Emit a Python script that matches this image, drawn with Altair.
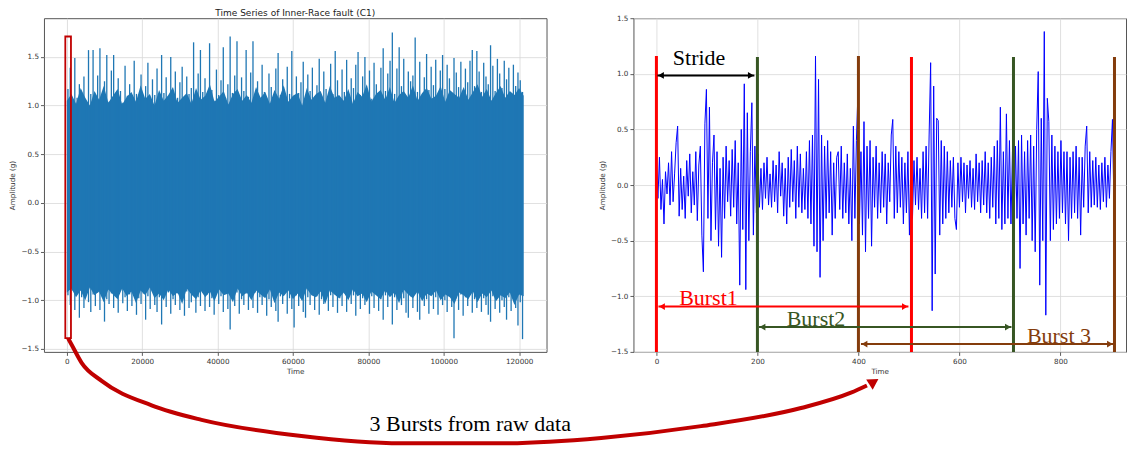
import altair as alt
import pandas as pd

# ---------------- Left panel: raw record ----------------
# spikes: extreme values per bin of 606 samples
raw_bin = 606
raw_hi = [
    1.17, 1.39, 1.05, 1.49, 1.08, 1.22, 1.10, 1.30, 1.02, 1.57, 1.12, 1.57, 1.06, 1.31, 1.59, 1.10, 1.25, 1.52, 1.04, 1.36,
    1.52, 1.08, 1.28, 1.15, 1.03, 1.41, 1.10, 1.22, 1.06, 1.46, 1.12, 1.01, 1.32, 1.09, 1.20, 1.44, 1.05, 1.27, 1.11, 1.38,
    1.07, 1.52, 1.13, 1.29, 1.04, 1.50, 1.10, 1.35, 1.08, 1.24, 1.40, 1.06, 1.30, 1.12, 1.18, 1.65, 1.09, 1.33, 1.57, 1.14,
    1.28, 1.07, 1.64, 1.16, 1.05, 1.37, 1.11, 1.26, 1.60, 1.08, 1.22, 1.71, 1.13, 1.31, 1.66, 1.06, 1.29, 1.15, 1.57, 1.09,
    1.34, 1.66, 1.10, 1.25, 1.05, 1.42, 1.14, 1.08, 1.33, 1.19, 1.06, 1.38, 1.54, 1.11, 1.27, 1.09, 1.40, 1.12, 1.56, 1.07,
    1.30, 1.13, 1.24, 1.45, 1.06, 1.32, 1.15, 1.39, 1.09, 1.21, 1.48, 1.10, 1.35, 1.17, 1.05, 1.43, 1.12, 1.56, 1.26, 1.08,
    1.37, 1.14, 1.47, 1.09, 1.28, 1.18, 1.42, 1.55, 1.11, 1.30, 1.50, 1.13, 1.36, 1.07, 1.44, 1.22, 1.10, 1.39, 1.59, 1.15,
    1.33, 1.46, 1.75, 1.12, 1.38, 1.60, 1.20, 1.48, 1.09, 1.35, 1.25, 1.31, 1.70, 1.14, 1.45, 1.11, 1.29, 1.53, 1.16, 1.40,
    1.21, 1.47, 1.10, 1.36, 1.52, 1.17, 1.42, 1.28, 1.13, 1.49, 1.34, 1.19, 1.45, 1.08, 1.38, 1.24, 1.46, 1.57, 1.20, 1.56,
    1.35, 1.14, 1.44, 1.30, 1.22, 1.62, 1.41, 1.15, 1.48, 1.33, 1.18, 1.46, 1.27, 1.39, 1.12, 1.42, 1.20, 1.34, 1.26, 1.14,
]
raw_lo = [
    -0.95, -1.05, -0.90, -1.10, -0.93, -1.18, -0.97, -1.08, -0.91, -1.02, -1.12, -0.94, -1.06, -0.92, -1.10, -0.96, -1.22, -0.99, -1.04, -0.93,
    -1.08, -0.95, -1.13, -0.90, -1.03, -0.97, -1.11, -0.94, -1.06, -0.92, -1.15, -0.98, -1.04, -0.93, -1.20, -0.96, -1.09, -0.91, -1.05, -1.12,
    -0.97, -1.25, -0.94, -1.07, -0.92, -1.14, -0.99, -1.05, -0.93, -1.10, -0.96, -1.16, -0.91, -1.08, -1.02, -0.95, -1.13, -0.97, -1.06, -0.92,
    -1.11, -0.94, -1.07, -0.98, -1.15, -0.93, -1.04, -0.96, -1.12, -0.91, -1.09, -1.30, -0.95, -1.06, -0.92, -1.14, -0.99, -1.05, -0.93, -1.10,
    -0.96, -1.08, -0.92, -1.13, -0.97, -1.05, -0.94, -1.16, -0.99, -1.07, -0.93, -1.11, -1.22, -0.96, -1.04, -0.91, -1.14, -0.98, -1.09, -1.28,
    -0.95, -1.06, -0.92, -1.12, -1.18, -0.97, -1.05, -0.93, -1.10, -0.96, -1.15, -0.99, -1.04, -0.92, -1.11, -0.95, -1.07, -0.94, -1.13, -0.98,
    -1.06, -0.93, -1.12, -0.97, -1.04, -0.95, -1.16, -0.92, -1.09, -0.98, -1.05, -0.94, -1.14, -0.96, -1.08, -0.93, -1.11, -0.99, -1.20, -0.95,
    -1.07, -0.94, -1.25, -0.97, -1.10, -0.93, -1.05, -0.98, -1.13, -1.18, -0.96, -1.08, -0.92, -1.12, -1.20, -0.95, -1.06, -0.99, -1.14, -0.94,
    -1.09, -0.97, -1.15, -0.93, -1.05, -1.00, -1.12, -0.95, -1.07, -1.39, -0.98, -1.10, -0.94, -1.16, -0.97, -1.06, -0.93, -1.13, -0.99, -1.08,
    -0.95, -1.12, -0.98, -1.05, -1.15, -1.22, -0.96, -1.09, -0.94, -1.13, -1.00, -1.07, -1.20, -0.97, -1.11, -0.95, -1.08, -1.26, -1.02, -1.40,
]
# dense (solid) band of the record, 100 points over the record length
rec_len = 121200
core_hi = [
    1.05, 1.12, 1.02, 1.18, 1.08, 1.00, 1.15, 1.06, 1.20, 1.03,
    1.10, 1.17, 1.01, 1.09, 1.14, 1.04, 1.21, 1.07, 1.12, 1.00,
    1.16, 1.05, 1.11, 1.19, 1.03, 1.08, 1.13, 1.02, 1.18, 1.06,
    1.10, 1.22, 1.04, 1.09, 1.15, 1.01, 1.12, 1.17, 1.05, 1.11,
    1.03, 1.19, 1.08, 1.14, 1.02, 1.16, 1.07, 1.21, 1.04, 1.10,
    1.13, 1.00, 1.18, 1.06, 1.12, 1.15, 1.03, 1.20, 1.08, 1.11,
    1.05, 1.17, 1.02, 1.14, 1.09, 1.22, 1.04, 1.12, 1.16, 1.06,
    1.19, 1.03, 1.11, 1.15, 1.08, 1.21, 1.05, 1.13, 1.18, 1.07,
    1.10, 1.20, 1.04, 1.16, 1.12, 1.08, 1.19, 1.06, 1.14, 1.22,
    1.09, 1.17, 1.05, 1.13, 1.20, 1.08, 1.15, 1.11, 1.18, 1.10,
]
core_lo = [
    -0.92, -0.88, -0.97, -0.90, -1.00, -0.87, -0.95, -0.91, -1.02, -0.89,
    -0.94, -0.99, -0.88, -0.96, -0.91, -1.03, -0.90, -0.95, -0.87, -0.98,
    -0.93, -1.00, -0.89, -0.96, -0.92, -1.04, -0.88, -0.94, -0.99, -0.90,
    -0.97, -0.91, -1.01, -0.89, -0.95, -0.93, -1.02, -0.88, -0.96, -0.92,
    -1.00, -0.90, -0.94, -0.98, -0.89, -1.03, -0.92, -0.96, -0.90, -0.99,
    -0.93, -1.01, -0.88, -0.95, -0.97, -0.91, -1.04, -0.90, -0.94, -0.98,
    -0.92, -1.00, -0.89, -0.96, -0.93, -1.02, -0.91, -0.95, -0.99, -0.90,
    -0.97, -0.92, -1.03, -0.89, -0.94, -0.98, -0.91, -1.01, -0.93, -0.96,
    -0.90, -1.00, -0.94, -0.97, -1.04, -0.92, -0.95, -0.99, -0.91, -1.02,
    -0.93, -0.97, -0.90, -1.01, -0.95, -0.98, -0.92, -1.05, -0.94, -0.96,
]
left_ticks_x = [0, 20000, 40000, 60000, 80000, 100000, 120000]
amp_ticks = [-1.5, -1.0, -0.5, 0.0, 0.5, 1.0, 1.5]
left_title = ["Time Series of Inner-Race fault (C1)"]

# zoom box and the curved arrow (in the left panel's Time / Amplitude units)
box_t = [-400, 1100]
box_v = [-1.39, 1.71]
curve_t = [354, 1282, 3932, 9233, 22486, 35738, 62243, 88748, 115253, 141758, 168263, 194768, 208021, 212262]
curve_v = [-1.392, -1.457, -1.643, -1.829, -2.080, -2.229, -2.395, -2.470, -2.470, -2.415, -2.294, -2.108, -1.950, -1.876]
head_t = [214117]
head_v = [-1.839]
caption = ["3 Bursts from raw data"]
caption_t = [107037]
caption_v = [-2.347]

# ---------------- Right panel: first 910 samples (every 3rd sample) ----------------
burst_step = 3
burst_vals = [
    0.18, -0.12, 0.25, -0.22, 0.05, -0.35, 0.12, -0.08, 0.2, -0.18,
    0.3, -0.15, 0.1, 0.38, 0.53, -0.28, 0.15, -0.22, 0.08, -0.3,
    0.22, -0.1, 0.28, -0.25, 0.12, -0.18, 0.3, -0.32, 0.18, 0.35,
    -0.45, -0.78, 0.55, 0.86, -0.3, 0.70, -0.5, 0.2, 0.45, -0.4,
    0.3, -0.55, 0.15, -0.65, 0.25, -0.3, 0.35, -0.15, 0.22, -0.28,
    0.32, -0.2, 0.4, -0.35, 0.2, -0.9, 0.5, -0.4, 0.91, -0.94,
    0.65, -0.5, 0.3, 0.74, -0.45, 0.35, -0.25, 0.28, -0.2, 0.15,
    -0.22, 0.2, -0.12, 0.25, -0.18, 0.1, -0.2, 0.22, -0.15, 0.18,
    -0.25, 0.3, -0.1, 0.2, -0.28, 0.15, -0.35, 0.25, -0.2, 0.32,
    -0.15, 0.22, -0.3, 0.35, -0.2, 0.28, -0.25, 0.15, -0.22, 0.3,
    -0.3, 0.4, -0.35, 0.45, -0.55, 1.16, -0.6, 0.95, -0.83, 0.45,
    -0.5, 0.35, -0.3, 0.4, -0.25, 0.3, -0.45, 0.2, -0.3, 0.25,
    0.3, -0.22, 0.35, -0.3, 0.2, -0.25, 0.28, -0.35, 0.15, -0.5,
    0.53, -0.3, 0.4, 0.83, -0.35, 0.3, -0.45, 0.57, -0.6, 0.35,
    -0.3, 0.4, -0.55, 0.25, -0.2, 0.35, -0.3, 0.2, -0.25, 0.3,
    -0.2, 0.28, -0.35, 0.2, -0.15, 0.45, 0.59, -0.3, 0.35, -0.25,
    0.3, -0.2, 0.25, -0.35, 0.2, -0.25, 0.3, -0.45, 0.28, -0.3,
    0.22, -0.18, 0.25, -0.22, 0.15, -0.3, 0.3, -0.25, 0.35, -0.3,
    0.45, 1.10, -1.13, 0.89, -0.8, 0.6, 0.58, -0.45, 0.4, -0.35,
    0.35, -0.3, 0.3, -0.25, 0.22, -0.2, 0.25, -0.3, -0.4, 0.2,
    -0.2, 0.25, -0.15, 0.2, -0.25, 0.18, -0.12, 0.22, -0.2, 0.15,
    -0.22, 0.28, -0.15, 0.2, -0.25, 0.22, -0.18, 0.3, -0.25, 0.2,
    -0.3, 0.25, -0.2, 0.35, -0.35, 0.4, -0.3, 0.70, -0.4, 0.3,
    -0.35, 0.64, -0.3, 0.4, -0.35, 0.3, -0.4, 0.35, -0.3, 0.4,
    -0.75, 0.45, -0.35, 0.3, -0.45, 0.4, -0.3, 0.45, -0.5, 0.35,
    -0.6, 0.5, 1.02, -0.9, 0.6, -0.5, 1.38, -1.17, 0.78, 0.57,
    -0.5, 0.45, -0.4, 0.35, -0.35, 0.3, -0.3, 0.4, -0.25, 0.3,
    -0.35, 0.3, -0.5, 0.25, -0.3, 0.3, -0.25, 0.35, -0.3, 0.25,
    -0.45, 0.25, -0.2, 0.35, 0.53, -0.25, 0.3, -0.2, 0.22, -0.18,
    0.25, -0.2, 0.18, -0.22, 0.2, -0.15, 0.25, -0.2, 0.18, -0.12,
    0.3, 0.59, -0.2, 0.1,
]
right_ticks_x = [0, 200, 400, 600, 800]

# burst boundaries
bound_t = [0, 200, 400, 505, 707, 907]
bound_top = [1.16, 1.15, 1.16, 1.15, 1.15, 1.15]
bound_color = ["#ff0000", "#375623", "#843c0c", "#ff0000", "#375623", "#843c0c"]

# span arrows and their labels
span_name = ["Stride", "Burst1", "Burst2", "Burst 3"]
span_start = [2, 4, 203, 405]
span_end = [194, 499, 703, 905]
span_v = [0.985, -1.093, -1.277, -1.43]
span_color = ["#000000", "#ff0000", "#375623", "#843c0c"]
label_t = [84.5, 103, 316, 797]
label_v = [1.081, -1.075, -1.268, -1.417]

# ---------------- tables ----------------
raw_df = pd.DataFrame({
    "t": [raw_bin * i + raw_bin / 2 for i in range(len(raw_hi))],
    "hi": raw_hi,
    "lo": raw_lo,
})
n_core = len(core_hi)
core_df = pd.DataFrame({
    "t": [rec_len * i / (n_core - 1) for i in range(n_core)],
    "v": core_lo,
    "v2": core_hi,
})
box_df = pd.DataFrame({"t": [box_t[0]], "t2": [box_t[1]], "v": [box_v[0]], "v2": [box_v[1]]})
curve_df = pd.DataFrame({"t": curve_t, "v": curve_v, "o": list(range(len(curve_t)))})
head_df = pd.DataFrame({"t": head_t, "v": head_v})
cap_df = pd.DataFrame({"t": caption_t, "v": caption_v, "txt": caption})
title_df = pd.DataFrame({"t": [60600], "v": [1.9955], "txt": left_title})

sig_df = pd.DataFrame({"t": [burst_step * i for i in range(len(burst_vals))], "v": burst_vals})
bound_df = pd.DataFrame({"t": bound_t, "top": bound_top, "bot": [-1.5] * len(bound_t), "c": bound_color})
span_df = pd.DataFrame({"t": span_start, "t2": span_end, "v": span_v, "c": span_color})
heads = []
for s, e, v, c in zip(span_start, span_end, span_v, span_color):
    heads.append({"t": s + 7, "v": v, "c": c, "s": "triangle-left"})
    heads.append({"t": e - 7, "v": v, "c": c, "s": "triangle-right"})
heads_df = pd.DataFrame(heads)
lab_df = pd.DataFrame({"t": label_t, "v": label_v, "c": span_color, "txt": span_name})

# ---------------- left panel ----------------
sxL = alt.Scale(domain=[-6060, 127260], nice=False, zero=False)
syL = alt.Scale(domain=[-1.531, 1.898], nice=False, zero=False)
axLx = alt.Axis(values=left_ticks_x, format="d", title="Time")
axLy = alt.Axis(values=amp_ticks, format=".1f", title="Amplitude (g)")
xL = dict(field="t", type="quantitative", scale=sxL, axis=axLx)
yL = dict(field="v", type="quantitative", scale=syL, axis=axLy)

core_layer = alt.Chart(core_df).mark_area(color="#1f77b4", opacity=1).encode(
    x=alt.X(**xL), y=alt.Y(**yL), y2="v2:Q"
)
raw_layer = alt.Chart(raw_df).mark_rule(color="#1f77b4", strokeWidth=1.3).encode(
    x=alt.X(**xL),
    y=alt.Y("lo:Q", scale=syL, axis=axLy),
    y2="hi:Q",
)
box_layer = alt.Chart(box_df).mark_rect(filled=False, color="#c00000", strokeWidth=1.8).encode(
    x=alt.X(**xL), x2="t2:Q", y=alt.Y(**yL), y2="v2:Q"
)
curve_layer = alt.Chart(curve_df).mark_line(color="#c00000", strokeWidth=4, interpolate="monotone").encode(
    x=alt.X(**xL), y=alt.Y(**yL), order="o:Q"
)
head_layer = alt.Chart(head_df).mark_point(shape="triangle-up", filled=True, color="#c00000",
                                           opacity=1, size=150, angle=58).encode(
    x=alt.X(**xL), y=alt.Y(**yL)
)
cap_layer = alt.Chart(cap_df).mark_text(font="Liberation Serif", fontSize=22, color="#000000",
                                         align="center", baseline="alphabetic").encode(
    x=alt.X(**xL), y=alt.Y(**yL), text="txt:N"
)
title_layer = alt.Chart(title_df).mark_text(font="DejaVu Sans", fontSize=9, color="#222222",
                                             align="center", baseline="top").encode(
    x=alt.X(**xL), y=alt.Y(**yL), text="txt:N"
)
left = alt.layer(core_layer, raw_layer, box_layer, curve_layer, head_layer, cap_layer,
                 title_layer).properties(width=503, height=334)

# ---------------- right panel ----------------
sxR = alt.Scale(domain=[-45.5, 929.8], nice=False, zero=False)
syR = alt.Scale(domain=[-1.5, 1.5], nice=False, zero=False)
axRx = alt.Axis(values=right_ticks_x, format="d", title="Time")
axRy = alt.Axis(values=amp_ticks, format=".1f", title="Amplitude (g)")
xR = dict(field="t", type="quantitative", scale=sxR, axis=axRx)
yR = dict(field="v", type="quantitative", scale=syR, axis=axRy)

sig_layer = alt.Chart(sig_df).mark_line(color="#0000ff", strokeWidth=1).encode(
    x=alt.X(**xR), y=alt.Y(**yR)
)
bound_layer = alt.Chart(bound_df).mark_rule(strokeWidth=3).encode(
    x=alt.X(**xR),
    y=alt.Y("bot:Q", scale=syR, axis=axRy),
    y2="top:Q",
    color=alt.Color("c:N", scale=None),
)
span_layer = alt.Chart(span_df).mark_rule(strokeWidth=2).encode(
    x=alt.X(**xR), x2="t2:Q", y=alt.Y(**yR), color=alt.Color("c:N", scale=None)
)
heads_layer = alt.Chart(heads_df).mark_point(filled=True, opacity=1, size=45).encode(
    x=alt.X(**xR), y=alt.Y(**yR), color=alt.Color("c:N", scale=None), shape=alt.Shape("s:N", scale=None)
)
lab_layer = alt.Chart(lab_df).mark_text(font="Liberation Serif", fontSize=22, align="center",
                                         baseline="alphabetic").encode(
    x=alt.X(**xR), y=alt.Y(**yR), text="txt:N", color=alt.Color("c:N", scale=None)
)
right = alt.layer(sig_layer, bound_layer, span_layer, heads_layer, lab_layer).properties(width=493, height=334)

chart = (
    alt.hconcat(left, right, spacing=87, bounds="flush")
    .properties(padding=0, background="white")
    .configure_view(stroke="#555555", strokeWidth=1)
    .configure_axis(
        grid=True, gridColor="#d8d8d8", gridWidth=0.8, domain=False,
        tickColor="#333333", tickSize=3.5, tickWidth=0.8,
        labelFont="DejaVu Sans", labelFontSize=7.2, labelColor="#333333", labelPadding=2,
        titleFont="DejaVu Sans", titleFontSize=7.2, titleFontWeight="normal", titleColor="#333333",
    )
    .configure_axisX(titlePadding=3)
    .configure_axisY(titlePadding=4.5)
)

chart.save("out.html", embed_options={"renderer": "svg", "actions": False})
